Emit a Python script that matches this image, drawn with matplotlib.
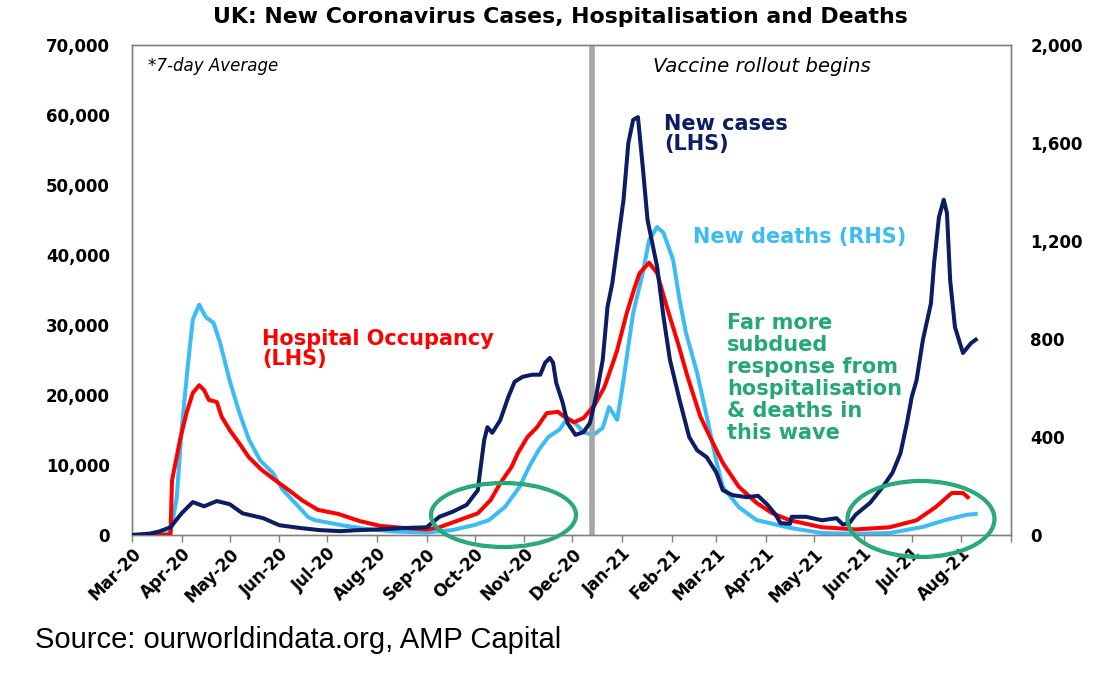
import matplotlib
matplotlib.use("Agg")
import matplotlib.pyplot as plt
from matplotlib.patches import Ellipse
from matplotlib.ticker import FuncFormatter
import pandas as pd

plt.rcParams['font.family'] = ['DejaVu Sans']

# ---------------- data ----------------
cases_dates = ["2020-03-01", "2020-03-12", "2020-03-18", "2020-03-25", "2020-04-01", "2020-04-08",
               "2020-04-15", "2020-04-23", "2020-05-01", "2020-05-09", "2020-05-22", "2020-06-01",
               "2020-06-14", "2020-06-26", "2020-07-09", "2020-07-21", "2020-08-03", "2020-08-18",
               "2020-09-01", "2020-09-09", "2020-09-17", "2020-09-26", "2020-10-03", "2020-10-04",
               "2020-10-07", "2020-10-09", "2020-10-12", "2020-10-17", "2020-10-22", "2020-10-26",
               "2020-10-31", "2020-11-06", "2020-11-11", "2020-11-14", "2020-11-17", "2020-11-19",
               "2020-11-21", "2020-11-25", "2020-11-28", "2020-12-03", "2020-12-08", "2020-12-12",
               "2020-12-16", "2020-12-20", "2020-12-23", "2020-12-26", "2021-01-02", "2021-01-05",
               "2021-01-08", "2021-01-11", "2021-01-14", "2021-01-17", "2021-01-23", "2021-01-27",
               "2021-01-31", "2021-02-06", "2021-02-12", "2021-02-17", "2021-02-23", "2021-03-01",
               "2021-03-05", "2021-03-11", "2021-03-20", "2021-03-27", "2021-04-02", "2021-04-07",
               "2021-04-10", "2021-04-16", "2021-04-17", "2021-04-26", "2021-05-06", "2021-05-15",
               "2021-05-19", "2021-05-23", "2021-05-27", "2021-06-05", "2021-06-13", "2021-06-19",
               "2021-06-24", "2021-06-28", "2021-07-01", "2021-07-04", "2021-07-08", "2021-07-13",
               "2021-07-15", "2021-07-18", "2021-07-21", "2021-07-23", "2021-07-25", "2021-07-28",
               "2021-08-02", "2021-08-07", "2021-08-10"]
cases_values = [0, 200, 500, 1100, 3100, 4700,
                4100, 4850, 4400, 3100, 2400, 1400,
                1000, 700, 550, 700, 800, 1000,
                1100, 2600, 3300, 4300, 6400, 8300,
                13600, 15400, 14600, 16400, 19700, 21900,
                22600, 22900, 22900, 24600, 25300, 24600,
                21700, 18900, 16000, 14300, 14700, 16000,
                20000, 25000, 32600, 36000, 47900, 56000,
                59300, 59700, 52600, 45000, 38300, 31100,
                25000, 19300, 14000, 12100, 11100, 8900,
                6400, 5700, 5400, 5600, 4300, 2900,
                1700, 1600, 2600, 2600, 2100, 2400,
                1500, 1700, 2900, 4600, 6900, 8900,
                11700, 16000, 19700, 22100, 27900, 33100,
                38900, 45400, 47900, 46000, 36400, 29700,
                26000, 27400, 27900]

hosp_dates = ["2020-03-01", "2020-03-25", "2020-03-26", "2020-03-31", "2020-04-04", "2020-04-08",
              "2020-04-12", "2020-04-15", "2020-04-18", "2020-04-23", "2020-04-26", "2020-05-01",
              "2020-05-07", "2020-05-13", "2020-05-21", "2020-05-29", "2020-06-07", "2020-06-15",
              "2020-06-25", "2020-07-08", "2020-07-21", "2020-08-03", "2020-08-18", "2020-09-01",
              "2020-09-09", "2020-09-21", "2020-10-03", "2020-10-11", "2020-10-17", "2020-10-24",
              "2020-10-28", "2020-11-03", "2020-11-09", "2020-11-15", "2020-11-22", "2020-11-26",
              "2020-12-02", "2020-12-08", "2020-12-15", "2020-12-21", "2020-12-27", "2020-12-29",
              "2021-01-04", "2021-01-09", "2021-01-12", "2021-01-18", "2021-01-23", "2021-01-29",
              "2021-02-05", "2021-02-11", "2021-02-19", "2021-02-25", "2021-03-05", "2021-03-15",
              "2021-03-26", "2021-04-05", "2021-04-16", "2021-05-06", "2021-05-27", "2021-06-17",
              "2021-07-04", "2021-07-16", "2021-07-26", "2021-08-02", "2021-08-05"]
hosp_values = [0, 0, 7800, 13600, 17400, 20300,
               21400, 20700, 19300, 19000, 16900, 15000,
               13100, 11100, 9300, 7900, 6400, 5000,
               3600, 3000, 2000, 1300, 1000, 800,
               1100, 2100, 3100, 5000, 7400, 9700,
               11700, 14000, 15400, 17400, 17600, 16900,
               16100, 16700, 18600, 21100, 25000, 26400,
               31700, 35400, 37400, 38900, 37400, 32600,
               27400, 22600, 16900, 14000, 10300, 6900,
               4600, 3100, 2100, 1100, 800, 1100,
               2100, 4000, 6000, 6000, 5400]

deaths_dates = ["2020-03-01", "2020-03-15", "2020-03-25", "2020-03-29", "2020-04-01", "2020-04-05",
                "2020-04-08", "2020-04-12", "2020-04-16", "2020-04-21", "2020-04-25", "2020-05-01",
                "2020-05-07", "2020-05-13", "2020-05-20", "2020-05-28", "2020-06-03", "2020-06-11",
                "2020-06-19", "2020-06-23", "2020-07-10", "2020-07-25", "2020-08-10", "2020-09-01",
                "2020-09-17", "2020-10-01", "2020-10-10", "2020-10-20", "2020-10-29", "2020-11-04",
                "2020-11-10", "2020-11-16", "2020-11-23", "2020-11-28", "2020-12-02", "2020-12-08",
                "2020-12-14", "2020-12-20", "2020-12-24", "2020-12-29", "2021-01-01", "2021-01-08",
                "2021-01-14", "2021-01-18", "2021-01-23", "2021-01-27", "2021-02-02", "2021-02-06",
                "2021-02-10", "2021-02-17", "2021-02-23", "2021-03-01", "2021-03-05", "2021-03-15",
                "2021-03-26", "2021-04-16", "2021-05-06", "2021-05-27", "2021-06-17", "2021-07-08",
                "2021-07-22", "2021-08-04", "2021-08-10"]
deaths_values = [0, 2, 8, 155, 430, 700,
                 880, 940, 890, 865, 785, 630,
                 500, 390, 305, 253, 185, 130,
                 73, 61, 40, 25, 15, 10,
                 20, 41, 61, 115, 196, 278,
                 347, 400, 430, 478, 461, 420,
                 408, 437, 522, 470, 590, 906,
                 1070, 1204, 1257, 1233, 1122, 960,
                 825, 661, 482, 300, 196, 114,
                 61, 29, 8, 5, 8, 33,
                 61, 82, 86]

vaccine_date = "2020-12-13"
left_ticks = [0, 10000, 20000, 30000, 40000, 50000, 60000, 70000]
right_ticks = [0, 400, 800, 1200, 1600, 2000]
x_start, x_end = "2020-03-01", "2021-09-01"

# ---------------- colours ----------------
NAVY = '#0b1d63'
RED = '#ff0000'
LBLUE = '#3bbcf5'
GREEN = '#25a878'
GREY = '#a6a6a6'

W, H = 1110, 674
fig = plt.figure(figsize=(W / 100, H / 100), dpi=100)
ax = fig.add_axes([132 / W, (H - 535) / H, (1011 - 132) / W, 490 / H])
ax2 = ax.twinx()

cd = pd.to_datetime(cases_dates)
hd = pd.to_datetime(hosp_dates)
dd = pd.to_datetime(deaths_dates)

ax.axvline(pd.Timestamp(vaccine_date), color=GREY, lw=4, zorder=1)
ax2.plot(dd, deaths_values, color=LBLUE, lw=2.9, solid_joinstyle='round', zorder=3)
ax.plot(hd, hosp_values, color=RED, lw=2.9, solid_joinstyle='round', zorder=3)
ax.plot(cd, cases_values, color=NAVY, lw=2.9, solid_joinstyle='round', zorder=4)
ax.set_zorder(ax2.get_zorder() + 1)
ax.patch.set_visible(False)

ax.set_xlim(pd.Timestamp(x_start), pd.Timestamp(x_end))
ax.set_ylim(0, 70000)
ax2.set_ylim(0, 2000)

ax.set_yticks(left_ticks)
ax2.set_yticks(right_ticks)
fmt = FuncFormatter(lambda v, p: f"{int(v):,}")
ax.yaxis.set_major_formatter(fmt)
ax2.yaxis.set_major_formatter(fmt)

months = pd.date_range(x_start, "2021-08-01", freq='MS')
ax.set_xticks(list(months) + [pd.Timestamp(x_end)])
ax.set_xticklabels([m.strftime('%b-%y') for m in months] + [''])

for a in (ax, ax2):
    for s in a.spines.values():
        s.set_color('#808080')
        s.set_linewidth(1.0)

ax.tick_params(axis='y', length=0, pad=16, labelsize=12)
ax2.tick_params(axis='y', length=0, pad=14, labelsize=12)
ax.tick_params(axis='x', length=5, width=1, color='#808080', direction='out', pad=2, labelsize=12)
for lbl in ax.get_yticklabels() + ax2.get_yticklabels():
    lbl.set_fontweight('bold')
for lbl in ax.get_xticklabels():
    lbl.set_fontweight('bold')
    lbl.set_rotation(45)
    lbl.set_ha('right')
    lbl.set_rotation_mode('anchor')

# ---------------- text ----------------
def fx(px):
    return px / W

def fy(py):
    return 1 - py / H

fig.text(fx(560), fy(17), "UK: New Coronavirus Cases, Hospitalisation and Deaths",
         ha='center', va='center', fontsize=15.8, fontweight='bold')
fig.text(fx(148), fy(66), "*7-day Average", ha='left', va='center', fontsize=12, style='italic')
fig.text(fx(653), fy(66), "Vaccine rollout begins", ha='left', va='center', fontsize=14.2, style='italic')
fig.text(fx(664), fy(134), "New cases\n(LHS)", ha='left', va='center', fontsize=15,
         fontweight='bold', color=NAVY, linespacing=1.05)
fig.text(fx(693), fy(237), "New deaths (RHS)", ha='left', va='center', fontsize=15,
         fontweight='bold', color=LBLUE)
fig.text(fx(262), fy(349), "Hospital Occupancy\n(LHS)", ha='left', va='center', fontsize=15,
         fontweight='bold', color=RED, linespacing=1.05)
fig.text(fx(727), fy(378), "Far more\nsubdued\nresponse from\nhospitalisation\n& deaths in\nthis wave",
         ha='left', va='center', fontsize=15, fontweight='bold', color=GREEN, linespacing=1.12)
fig.text(fx(35), fy(640), "Source: ourworldindata.org, AMP Capital", ha='left', va='center',
         fontsize=21, family='Liberation Sans')

# ---------------- ellipses ----------------
for (cx, cy, w, h) in [(503.5, 515, 147, 66), (921, 519, 149, 78)]:
    for d in (0, 4):
        e = Ellipse((fx(cx), fy(cy)), (w - d) / W, (h - d) / H, transform=fig.transFigure,
                    fill=False, edgecolor=GREEN, lw=1.6, zorder=10)
        fig.add_artist(e)

fig.savefig("out.png", dpi=100)
